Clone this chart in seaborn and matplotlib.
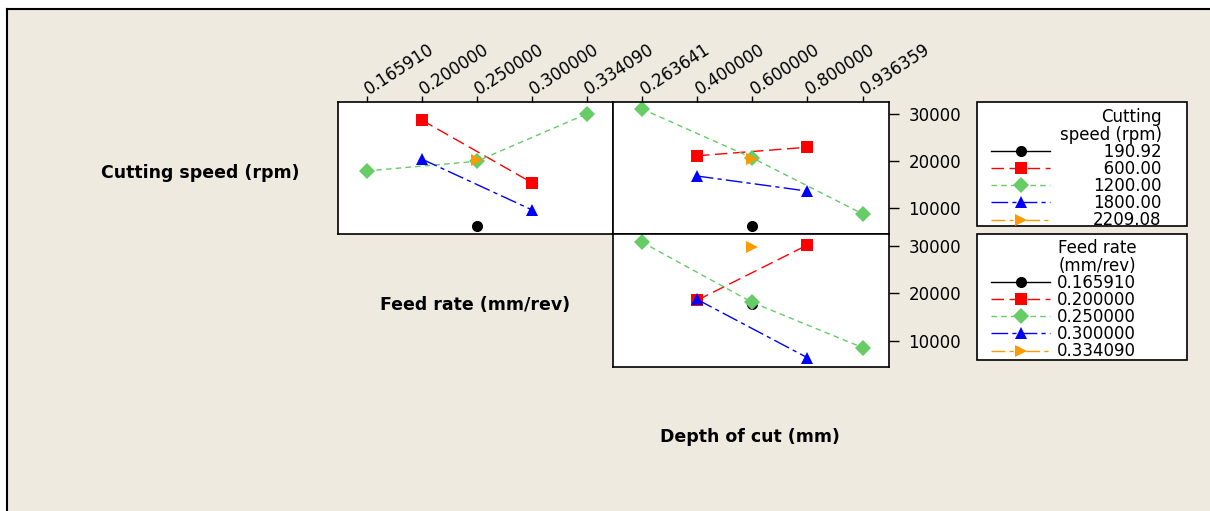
import matplotlib
matplotlib.use("Agg")
import matplotlib.pyplot as plt
import pandas as pd
import seaborn as sns
from matplotlib.lines import Line2D
from matplotlib.patches import Rectangle


# Poziomy czynnikow
feed_levels = ["0.165910", "0.200000", "0.250000", "0.300000", "0.334090"]
depth_levels = ["0.263641", "0.400000", "0.600000", "0.800000", "0.936359"]
speed_levels = ["190.92", "600.00", "1200.00", "1800.00", "2209.08"]
y_ticks = [10000, 20000, 30000]

# Panel 1: predkosc skrawania (linie) vs posuw (os x)
p1_trace = ["190.92", "600.00", "600.00", "1200.00", "1200.00", "1200.00", "1800.00", "1800.00", "2209.08"]
p1_x = ["0.250000", "0.200000", "0.300000", "0.165910", "0.250000", "0.334090", "0.200000", "0.300000", "0.250000"]
p1_y = [6130, 28710, 15380, 17850, 19900, 30000, 20400, 9570, 20200]

# Panel 2: predkosc skrawania (linie) vs glebokosc skrawania (os x)
p2_trace = ["190.92", "600.00", "600.00", "1200.00", "1200.00", "1200.00", "1800.00", "1800.00", "2209.08"]
p2_x = ["0.600000", "0.400000", "0.800000", "0.263641", "0.600000", "0.936359", "0.400000", "0.800000", "0.600000"]
p2_y = [6130, 21080, 22900, 31080, 20650, 8710, 16770, 13550, 20430]

# Panel 3: posuw (linie) vs glebokosc skrawania (os x)
p3_trace = ["0.165910", "0.200000", "0.200000", "0.250000", "0.250000", "0.250000", "0.300000", "0.300000", "0.334090"]
p3_x = ["0.600000", "0.400000", "0.800000", "0.263641", "0.600000", "0.936359", "0.400000", "0.800000", "0.600000"]
p3_y = [17660, 18510, 30210, 30850, 18090, 8510, 18720, 6380, 29790]

# Styl linii jak w Minitabie
line_colors = ["black", "#FF0000", "#66CC66", "#0000FF", "#FF9900"]
line_markers = ["o", "s", "D", "^", ">"]
line_dashes = ["", (9, 4), (4, 3), (12, 3, 3, 3), (10, 3, 3, 3, 3, 3)]

BG = "#EEEAE0"
W, H = 1210, 511
FS = 12

fig = plt.figure(figsize=(W / 100, H / 100), dpi=100, facecolor="white")
fig.patches.append(Rectangle((7 / W, 0), 1, 1 - 9 / H, transform=fig.transFigure,
                             facecolor=BG, edgecolor="none", zorder=-10))
fig.lines.append(Line2D([7 / W, 7 / W], [0, 1 - 9 / H], transform=fig.transFigure, color="black", lw=1.5))
fig.lines.append(Line2D([7 / W, 1], [1 - 9 / H, 1 - 9 / H], transform=fig.transFigure, color="black", lw=1.5))


def fig_box(x0, y0, x1, y1):
    return [x0 / W, 1 - y1 / H, (x1 - x0) / W, (y1 - y0) / H]


def draw_panel(ax, x_levels, trace_levels, xs, traces, ys):
    df = pd.DataFrame({"x": pd.Categorical(xs, categories=x_levels), "trace": traces, "mean": ys})
    df["pos"] = df["x"].cat.codes
    sns.lineplot(
        data=df, x="pos", y="mean", hue="trace", style="trace",
        hue_order=trace_levels, style_order=trace_levels,
        palette=dict(zip(trace_levels, line_colors)),
        markers=dict(zip(trace_levels, line_markers)),
        dashes=dict(zip(trace_levels, line_dashes)),
        markersize=8, markeredgewidth=0, linewidth=1,
        errorbar=None, legend=False, ax=ax,
    )
    ax.set_xlim(-0.52, 4.48)
    ax.set_ylim(4400, 32550)
    ax.set_xlabel("")
    ax.set_ylabel("")
    ax.set_facecolor("white")
    for s in ax.spines.values():
        s.set_linewidth(1.2)
        s.set_color("black")


ax1 = fig.add_axes(fig_box(338, 102, 613, 234))
ax2 = fig.add_axes(fig_box(613, 102, 889, 234))
ax3 = fig.add_axes(fig_box(613, 234, 889, 367))

draw_panel(ax1, feed_levels, speed_levels, p1_x, p1_trace, p1_y)
draw_panel(ax2, depth_levels, speed_levels, p2_x, p2_trace, p2_y)
draw_panel(ax3, depth_levels, feed_levels, p3_x, p3_trace, p3_y)

# Osie: etykiety u gory (obrocone) i po prawej
for ax, levels in [(ax1, feed_levels), (ax2, depth_levels)]:
    ax.xaxis.tick_top()
    ax.set_xticks(range(len(levels)))
    ax.set_xticklabels(levels, rotation=33, ha="left", va="center", rotation_mode="anchor", fontsize=FS)
    ax.tick_params(axis="x", direction="out", length=4, width=1, pad=4)
ax3.set_xticks([])
ax1.set_yticks([])
for ax in [ax2, ax3]:
    ax.yaxis.tick_right()
    ax.set_yticks(y_ticks)
    ax.set_yticklabels([str(v) for v in y_ticks], fontsize=FS)
    ax.tick_params(axis="y", direction="out", length=7, width=1, pad=7)

# Nazwy czynnikow na przekatnej
fig.text(200 / W, 1 - 173 / H, "Cutting speed (rpm)", ha="center", va="center", fontsize=12.5, fontweight="bold")
fig.text(475 / W, 1 - 305 / H, "Feed rate (mm/rev)", ha="center", va="center", fontsize=12.5, fontweight="bold")
fig.text(750 / W, 1 - 437 / H, "Depth of cut (mm)", ha="center", va="center", fontsize=12.5, fontweight="bold")


# Legendy
def make_handles():
    return [Line2D([], [], color=c, marker=m, markersize=8, markeredgewidth=0, lw=1,
                   dashes=d if d else (None, None))
            for c, m, d in zip(line_colors, line_markers, line_dashes)]


fig.patches.append(Rectangle((977 / W, 1 - 226 / H), 210 / W, 124 / H, transform=fig.transFigure,
                             facecolor="white", edgecolor="black", lw=1.2, zorder=1))
fig.patches.append(Rectangle((977 / W, 1 - 360 / H), 210 / W, 126 / H, transform=fig.transFigure,
                             facecolor="white", edgecolor="black", lw=1.2, zorder=1))

pad_labels = [s.rjust(7, "\u2007") for s in speed_levels]
leg1 = fig.legend(make_handles(), pad_labels, title="Cutting\nspeed (rpm)", loc="upper left",
                  bbox_to_anchor=(983 / W, 1 - 100 / H), frameon=False, fontsize=FS, title_fontsize=FS,
                  handlelength=3.5, handletextpad=2.6, labelspacing=-0.05, borderpad=0, alignment="right")
leg2 = fig.legend(make_handles(), feed_levels, title="Feed rate\n(mm/rev)", loc="upper left",
                  bbox_to_anchor=(983 / W, 1 - 231 / H), frameon=False, fontsize=FS, title_fontsize=FS,
                  handlelength=3.5, handletextpad=0.45, labelspacing=-0.05, borderpad=0, alignment="right")
for leg in [leg1, leg2]:
    leg.get_title().set_multialignment("right")
    leg.get_title().set_linespacing(0.95)

fig.savefig("out.png", dpi=100, facecolor=fig.get_facecolor())
